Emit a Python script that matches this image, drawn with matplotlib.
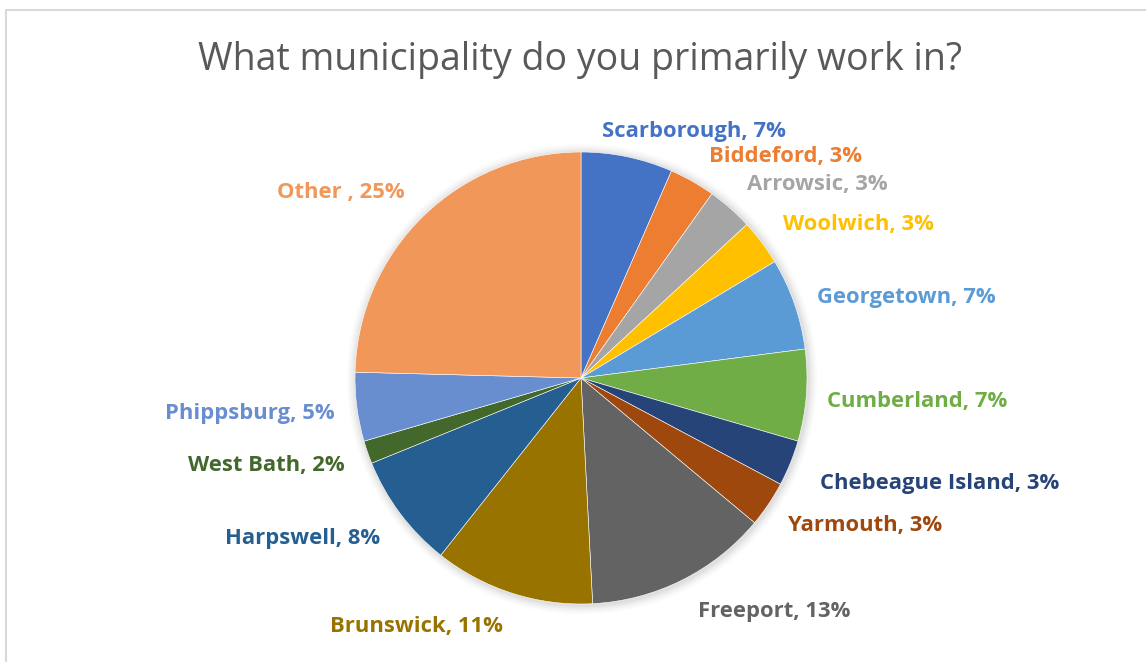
import numpy as np
import matplotlib
matplotlib.use("Agg")
import matplotlib.pyplot as plt
from matplotlib.lines import Line2D
from matplotlib.patches import Circle

plt.rcParams['font.family'] = ['Open Sans', 'DejaVu Sans']

TITLE = "What municipality do you primarily work in?"

# survey answers, counted per municipality (clockwise from 12 o'clock)
towns = ["Scarborough", "Biddeford", "Arrowsic", "Woolwich", "Georgetown",
         "Cumberland", "Chebeague Island", "Yarmouth", "Freeport", "Brunswick",
         "Harpswell", "West Bath", "Phippsburg", "Other "]
responses = [4, 2, 2, 2, 4, 4, 2, 2, 8, 7, 5, 1, 3, 15]

colors = ["#4472C4", "#ED7D31", "#A5A5A5", "#FFC000", "#5B9BD5", "#70AD47",
          "#264478", "#9E480E", "#636363", "#997300", "#255E91", "#43682B",
          "#698ED0", "#F1975A"]

# where each label sits, in pie-radius units around the centre
label_xy = [(0.50, 1.10), (0.905, 0.987), (1.047, 0.867), (1.228, 0.686),
            (1.44, 0.363), (1.487, -0.093), (1.589, -0.460), (1.257, -0.642),
            (0.854, -1.022), (-0.730, -1.089), (-1.230, -0.699),
            (-1.394, -0.376), (-1.465, -0.150), (-1.062, 0.831)]

W, H = 1146, 662
cx, cy, R = 581, 378, 226   # pie centre and radius in pixels

fig = plt.figure(figsize=(W / 100, H / 100), dpi=100)
ax = fig.add_axes([0, 0, 1, 1])

# soft shadow under the pie
for i, a in enumerate([0.035, 0.03, 0.025, 0.02, 0.015]):
    ax.add_patch(Circle((0.005, -0.005), 1.0 + 0.008 * (i + 1),
                        color="black", alpha=a, lw=0, zorder=0))

ax.pie(responses, colors=colors, startangle=90, counterclock=False,
       radius=1.0, wedgeprops=dict(edgecolor="white", linewidth=0.4))

total = sum(responses)
for name, n, col, (x, y) in zip(towns, responses, colors, label_xy):
    pct = round(100 * n / total)
    ax.text(x, y - 0.009, f"{name}, {pct}%", color=col, fontsize=15.8,
            fontweight="bold", ha="center", va="center")

ax.set_xlim(-cx / R, (W - cx) / R)
ax.set_ylim(-(H - cy) / R, cy / R)
ax.set_aspect("equal")
ax.axis("off")

fig.text(580 / W, 1 - 60 / H, TITLE, color="#595959", fontsize=27,
         ha="center", va="center")

# chart area frame (left and top edges)
fig.add_artist(Line2D([5.5 / W, 5.5 / W, 1.0], [0.0, 1 - 9.5 / H, 1 - 9.5 / H],
                      transform=fig.transFigure, color="#D9D9D9", lw=1.5))

fig.savefig("out.png", dpi=100, facecolor="white")
